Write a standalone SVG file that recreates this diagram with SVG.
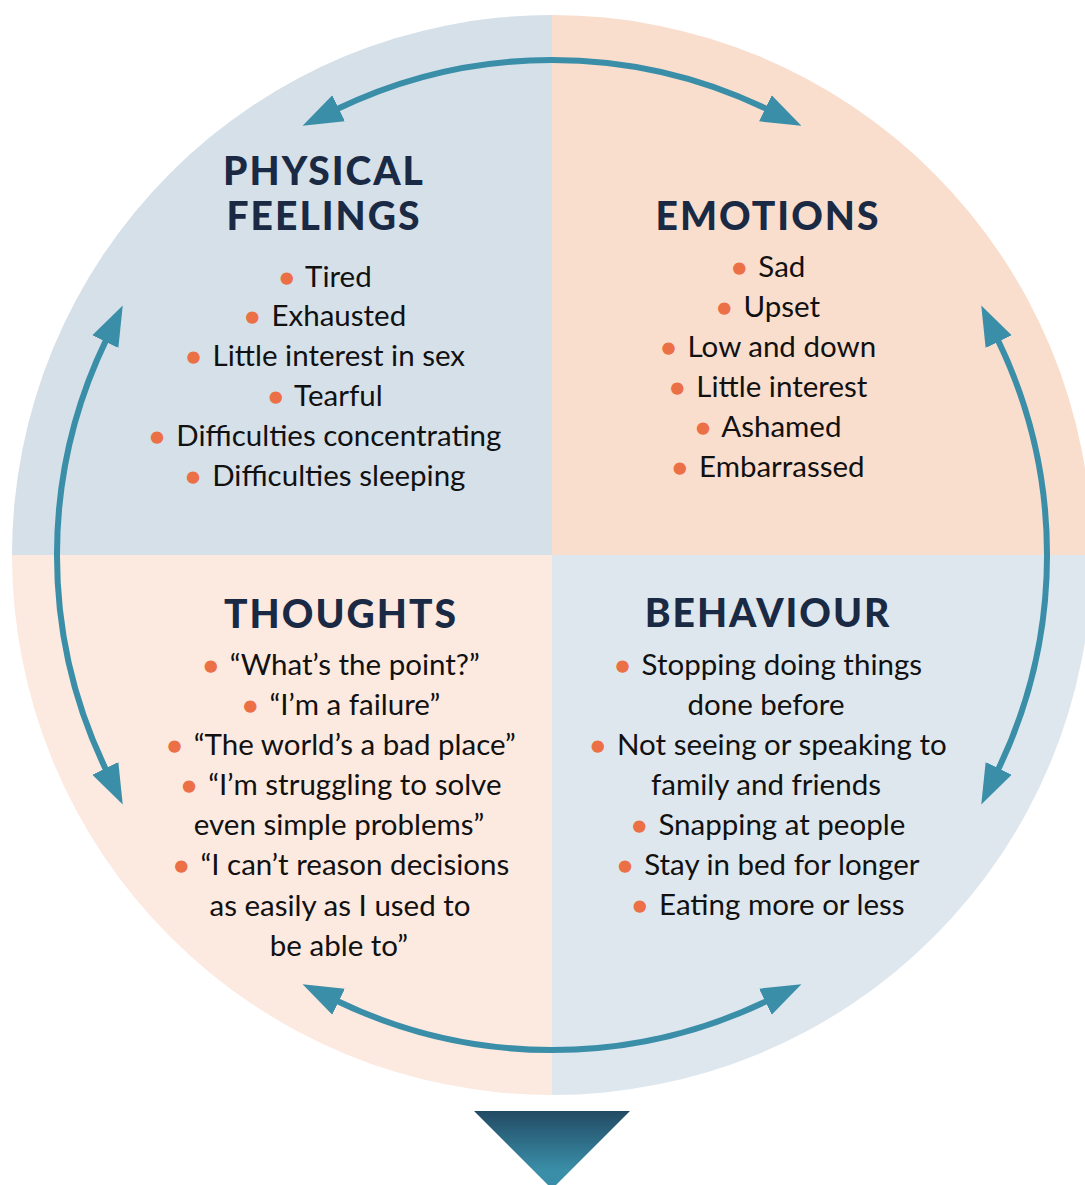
<svg xmlns="http://www.w3.org/2000/svg" width="1085" height="1185" viewBox="0 0 1085 1185">
  <style>
    .h { font-family: Lato, "Open Sans", "Liberation Sans", sans-serif; font-weight: 900; font-size: 39px; letter-spacing: 2px; fill: #1b2a44; text-anchor: middle; }
    .t { font-family: Lato, "Open Sans", "Liberation Sans", sans-serif; font-size: 29.5px; fill: #111111; text-anchor: middle; }
    .b { fill: #ec7046; stroke: #ec7046; stroke-width: 1.4px; letter-spacing: 3px; }
    .arc { fill: none; stroke: #3a8ea8; stroke-width: 6; }
  </style>
  <defs>
    <clipPath id="circ">
      <circle cx="552" cy="555" r="540"/>
    </clipPath>
    <marker id="ah" markerUnits="userSpaceOnUse" markerWidth="40" markerHeight="30" viewBox="0 0 36 26" refX="2" refY="13" orient="auto-start-reverse">
      <path d="M0,0 L36,13 L0,26 Z" fill="#3a8ea8"/>
    </marker>
    <linearGradient id="tri" x1="0" y1="1111" x2="0" y2="1170" gradientUnits="userSpaceOnUse">
      <stop offset="0" stop-color="#234a64"/>
      <stop offset="1" stop-color="#3a8ea8"/>
    </linearGradient>
  </defs>
  <rect width="1085" height="1185" fill="#ffffff"/>
  <g clip-path="url(#circ)">
    <rect x="0" y="0" width="552" height="555" fill="#d5e0e9"/>
    <rect x="552" y="0" width="540" height="555" fill="#f9ddcd"/>
    <rect x="0" y="555" width="552" height="545" fill="#fce9e0"/>
    <rect x="552" y="555" width="540" height="545" fill="#dfe7ee"/>
  </g>

  <g id="connectors">
    <path class="arc" d="M336.6,109.3 A495,495 0 0 1 767.4,109.3" marker-start="url(#ah)" marker-end="url(#ah)"/>
    <path class="arc" d="M106.3,339.6 A495,495 0 0 0 106.3,770.4" marker-start="url(#ah)" marker-end="url(#ah)"/>
    <path class="arc" d="M997.7,339.6 A495,495 0 0 1 997.7,770.4" marker-start="url(#ah)" marker-end="url(#ah)"/>
    <path class="arc" d="M336.6,1000.7 A495,495 0 0 0 767.4,1000.7" marker-start="url(#ah)" marker-end="url(#ah)"/>
  </g>

  <g id="physical-feelings">
    <text class="h" x="324" y="185">PHYSICAL</text>
    <text class="h" x="324" y="230">FEELINGS</text>
    <text class="t" x="325" y="287"><tspan class="b">•</tspan> Tired</text>
    <text class="t" x="325" y="326"><tspan class="b">•</tspan> Exhausted</text>
    <text class="t" x="325" y="366"><tspan class="b">•</tspan> Little interest in sex</text>
    <text class="t" x="325" y="406"><tspan class="b">•</tspan> Tearful</text>
    <text class="t" x="325" y="446"><tspan class="b">•</tspan> Difficulties concentrating</text>
    <text class="t" x="325" y="486"><tspan class="b">•</tspan> Difficulties sleeping</text>
  </g>

  <g id="emotions">
    <text class="h" x="768" y="230">EMOTIONS</text>
    <text class="t" x="768" y="277"><tspan class="b">•</tspan> Sad</text>
    <text class="t" x="768" y="317"><tspan class="b">•</tspan> Upset</text>
    <text class="t" x="768" y="357"><tspan class="b">•</tspan> Low and down</text>
    <text class="t" x="768" y="397"><tspan class="b">•</tspan> Little interest</text>
    <text class="t" x="768" y="437"><tspan class="b">•</tspan> Ashamed</text>
    <text class="t" x="768" y="477"><tspan class="b">•</tspan> Embarrassed</text>
  </g>

  <g id="thoughts">
    <text class="h" x="341" y="628">THOUGHTS</text>
    <text class="t" x="341" y="675"><tspan class="b">•</tspan> “What’s the point?”</text>
    <text class="t" x="341" y="715"><tspan class="b">•</tspan> “I’m a failure”</text>
    <text class="t" x="341" y="755"><tspan class="b">•</tspan> “The world’s a bad place”</text>
    <text class="t" x="341" y="795"><tspan class="b">•</tspan> “I’m struggling to solve</text>
    <text class="t" x="339" y="835">even simple problems”</text>
    <text class="t" x="341" y="875"><tspan class="b">•</tspan> “I can’t reason decisions</text>
    <text class="t" x="340" y="916">as easily as I used to</text>
    <text class="t" x="339" y="956">be able to”</text>
  </g>

  <g id="behaviour">
    <text class="h" x="768" y="627">BEHAVIOUR</text>
    <text class="t" x="768" y="675"><tspan class="b">•</tspan> Stopping doing things</text>
    <text class="t" x="766" y="715">done before</text>
    <text class="t" x="768" y="755"><tspan class="b">•</tspan> Not seeing or speaking to</text>
    <text class="t" x="766" y="795">family and friends</text>
    <text class="t" x="768" y="835"><tspan class="b">•</tspan> Snapping at people</text>
    <text class="t" x="768" y="875"><tspan class="b">•</tspan> Stay in bed for longer</text>
    <text class="t" x="768" y="915"><tspan class="b">•</tspan> Eating more or less</text>
  </g>

  <g id="down-arrow">
    <polygon points="474,1111 630,1111 552,1189" fill="url(#tri)"/>
  </g>
</svg>
